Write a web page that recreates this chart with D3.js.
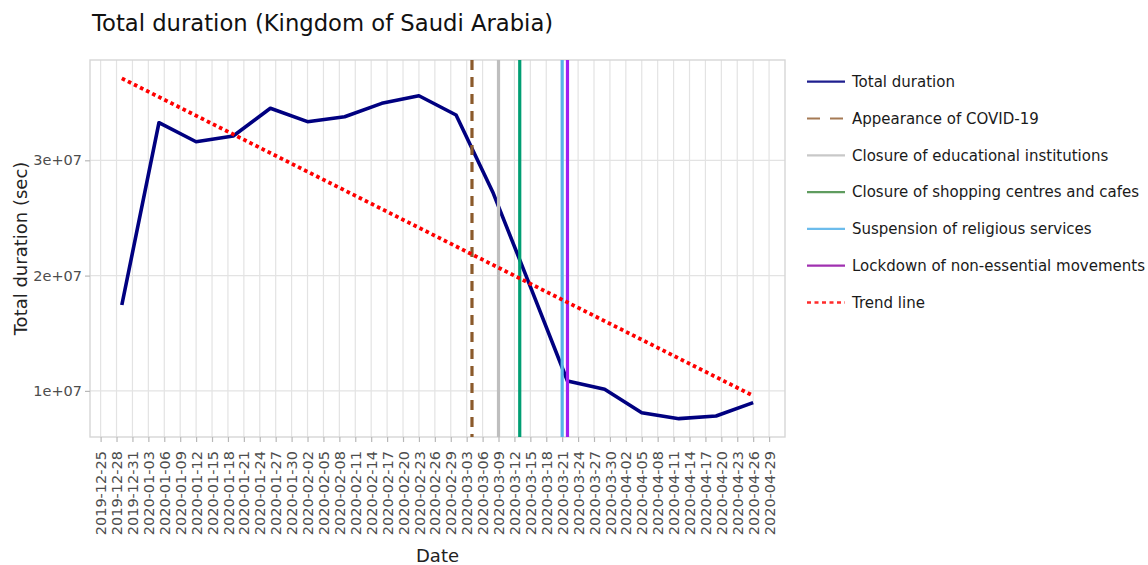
<!DOCTYPE html>
<html>
<head>
<meta charset="utf-8">
<script src="https://cdn.jsdelivr.net/npm/d3@7"></script>
<style>
  body { margin: 0; background: #fff; }
  svg { display: block; font-family: 'DejaVu Sans', Verdana, sans-serif; }
</style>
</head>
<body>
<div id="chart"></div>
<script>

// weekly totals
const weekDates = [
  '2019-12-29', '2020-01-05', '2020-01-12', '2020-01-19', '2020-01-26',
  '2020-02-02', '2020-02-09', '2020-02-16', '2020-02-23', '2020-03-01',
  '2020-03-08', '2020-03-15', '2020-03-22', '2020-03-29', '2020-04-05',
  '2020-04-12', '2020-04-19', '2020-04-26'
];
const totalDuration = [
  1.745e7, 3.326e7, 3.161e7, 3.211e7, 3.451e7,
  3.335e7, 3.378e7, 3.494e7, 3.560e7, 3.393e7,
  2.716e7, 1.905e7, 1.086e7, 1.014e7, 0.811e7,
  0.759e7, 0.782e7, 0.898e7
];

// trend line end points
const trendDates = ['2019-12-29', '2020-04-26'];
const trendValues = [3.711e7, 0.958e7];

// government measures
const eventNames = [
  'Appearance of COVID-19',
  'Closure of educational institutions',
  'Closure of shopping centres and cafes',
  'Suspension of religious services',
  'Lockdown of non-essential movements'
];
const eventDates = ['2020-03-04', '2020-03-09', '2020-03-13', '2020-03-21', '2020-03-22'];

const xTickLabels = [
  '2019-12-25', '2019-12-28', '2019-12-31',
  '2020-01-03', '2020-01-06', '2020-01-09', '2020-01-12', '2020-01-15',
  '2020-01-18', '2020-01-21', '2020-01-24', '2020-01-27', '2020-01-30',
  '2020-02-02', '2020-02-05', '2020-02-08', '2020-02-11', '2020-02-14',
  '2020-02-17', '2020-02-20', '2020-02-23', '2020-02-26', '2020-02-29',
  '2020-03-03', '2020-03-06', '2020-03-09', '2020-03-12', '2020-03-15',
  '2020-03-18', '2020-03-21', '2020-03-24', '2020-03-27', '2020-03-30',
  '2020-04-02', '2020-04-05', '2020-04-08', '2020-04-11', '2020-04-14',
  '2020-04-17', '2020-04-20', '2020-04-23', '2020-04-26', '2020-04-29'
];
const yTickValues = [1e7, 2e7, 3e7];


// styles, same order as the legend
const legendStyles = [
  { plot: '#000080', key: '#1f1f8f', width: 3.6, keyWidth: 2.2, dash: null, keyDash: null },
  { plot: '#8b5a2b', key: '#a57a55', width: 3.2, keyWidth: 2.2, dash: '10,7', keyDash: '13,10' },
  { plot: '#bebebe', key: '#c8c8c8', width: 3.2, keyWidth: 2.2, dash: null, keyDash: null },
  { plot: '#009e73', key: '#5f9c5f', width: 3.2, keyWidth: 2.2, dash: null, keyDash: null },
  { plot: '#56b4e9', key: '#6cbcec', width: 3.2, keyWidth: 2.2, dash: null, keyDash: null },
  { plot: '#a020f0', key: '#a030b0', width: 3.2, keyWidth: 2.2, dash: null, keyDash: null },
  { plot: '#ff0000', key: '#ff2a2a', width: 3.8, keyWidth: 2.6, dash: '3.6,3.2', keyDash: '4,3.5' }
];


/**
 * @class
 */
class DurationChart {


  constructor(width, height) {

    this._width = width;
    this._height = height;
    this._panel = { left: 90, right: 785, top: 60, bottom: 437 };
    this._parse = d3.utcParse('%Y-%m-%d');

    this._xScale = d3.scaleUtc()
      .domain([this._parse('2019-12-23'), this._parse('2020-05-02')])
      .range([this._panel.left, this._panel.right]);

    this._yScale = d3.scaleLinear()
      .domain([0.6e7, 3.87e7])
      .range([this._panel.bottom, this._panel.top]);
  }


  renderTo(container) {

    this._svg = d3.select(container)
      .append('svg')
      .attr('width', this._width)
      .attr('height', this._height);

    this._renderGrid();
    this._renderAxes();
    this._renderSeries();
    this._renderTexts();
    this._renderLegend();

    return this;
  }


  _renderGrid() {

    const p = this._panel;
    const grid = this._svg.append('g')
      .attr('stroke', '#e3e3e3')
      .attr('stroke-width', 1.2);

    grid.selectAll('.vgrid')
      .data(xTickLabels)
      .join('line')
      .attr('x1', d => this._xScale(this._parse(d)))
      .attr('x2', d => this._xScale(this._parse(d)))
      .attr('y1', p.top)
      .attr('y2', p.bottom);

    grid.selectAll('.hgrid')
      .data(yTickValues)
      .join('line')
      .attr('x1', p.left)
      .attr('x2', p.right)
      .attr('y1', d => this._yScale(d))
      .attr('y2', d => this._yScale(d));

    this._svg.append('rect')
      .attr('x', p.left)
      .attr('y', p.top)
      .attr('width', p.right - p.left)
      .attr('height', p.bottom - p.top)
      .attr('fill', 'none')
      .attr('stroke', '#d6d6d6')
      .attr('stroke-width', 1.4);
  }


  _renderAxes() {

    const p = this._panel;
    const expFormat = v => d3.format('.0e')(v).replace(/e([+-])(\d)$/, 'e$10$2');

    const xAxis = this._svg.append('g')
      .attr('transform', `translate(0,${p.bottom})`)
      .call(d3.axisBottom(this._xScale)
        .tickValues(xTickLabels.map(this._parse))
        .tickFormat(d3.utcFormat('%Y-%m-%d'))
        .tickSize(5));

    xAxis.selectAll('text')
      .attr('transform', 'rotate(-90)')
      .attr('text-anchor', 'end')
      .attr('x', -14)
      .attr('y', 0)
      .attr('dy', '0.35em');

    const yAxis = this._svg.append('g')
      .attr('transform', `translate(${p.left},0)`)
      .call(d3.axisLeft(this._yScale)
        .tickValues(yTickValues)
        .tickFormat(expFormat)
        .tickSize(5)
        .tickPadding(3));

    [xAxis, yAxis].forEach(axis => {
      axis.select('.domain').remove();
      axis.selectAll('line').attr('stroke', '#b8b8b8').attr('stroke-width', 1.2);
      axis.selectAll('text')
        .attr('fill', '#4d4d4d')
        .style('font-family', "'DejaVu Sans', Verdana, sans-serif")
        .style('font-size', '14.5px');
    });
  }


  _renderSeries() {

    const x = this._xScale;
    const y = this._yScale;
    const p = this._panel;
    const line = d3.line()
      .x(d => x(d.date))
      .y(d => y(d.value));

    const series = weekDates.map((d, i) => ({ date: this._parse(d), value: totalDuration[i] }));

    this._svg.append('path')
      .datum(series)
      .attr('d', line)
      .attr('fill', 'none')
      .attr('stroke', legendStyles[0].plot)
      .attr('stroke-width', legendStyles[0].width)
      .attr('stroke-linejoin', 'round');

    this._svg.append('g')
      .selectAll('line')
      .data(eventDates)
      .join('line')
      .attr('x1', d => x(this._parse(d)))
      .attr('x2', d => x(this._parse(d)))
      .attr('y1', p.top)
      .attr('y2', p.bottom)
      .attr('stroke', (d, i) => legendStyles[i + 1].plot)
      .attr('stroke-width', (d, i) => legendStyles[i + 1].width)
      .attr('stroke-dasharray', (d, i) => legendStyles[i + 1].dash);

    const trend = trendDates.map((d, i) => ({ date: this._parse(d), value: trendValues[i] }));
    const trendStyle = legendStyles[6];

    this._svg.append('path')
      .datum(trend)
      .attr('d', line)
      .attr('fill', 'none')
      .attr('stroke', trendStyle.plot)
      .attr('stroke-width', trendStyle.width)
      .attr('stroke-dasharray', trendStyle.dash);
  }


  _renderTexts() {

    const p = this._panel;

    this._svg.append('text')
      .attr('x', 92)
      .attr('y', 31)
      .attr('fill', '#111')
      .style('font-size', '22.7px')
      .text('Total duration (Kingdom of Saudi Arabia)');

    this._svg.append('text')
      .attr('x', (p.left + p.right) / 2)
      .attr('y', 562)
      .attr('text-anchor', 'middle')
      .attr('fill', '#222')
      .style('font-size', '18px')
      .text('Date');

    this._svg.append('text')
      .attr('transform', `translate(27,${(p.top + p.bottom) / 2}) rotate(-90)`)
      .attr('text-anchor', 'middle')
      .attr('fill', '#222')
      .style('font-size', '18px')
      .text('Total duration (sec)');
  }


  _renderLegend() {

    const labels = ['Total duration'].concat(eventNames, ['Trend line']);

    const rows = this._svg.append('g')
      .attr('transform', 'translate(807,81.7)')
      .selectAll('g')
      .data(labels)
      .join('g')
      .attr('transform', (d, i) => `translate(0,${i * 36.8})`);

    rows.append('line')
      .attr('x1', 0)
      .attr('x2', 38)
      .attr('stroke', (d, i) => legendStyles[i].key)
      .attr('stroke-width', (d, i) => legendStyles[i].keyWidth)
      .attr('stroke-dasharray', (d, i) => legendStyles[i].keyDash);

    rows.append('text')
      .attr('x', 45)
      .attr('dy', '0.35em')
      .attr('fill', '#1a1a1a')
      .style('font-size', '15px')
      .text(d => d);
  }
}


new DurationChart(1148, 565).renderTo('#chart');

</script>
</body>
</html>
